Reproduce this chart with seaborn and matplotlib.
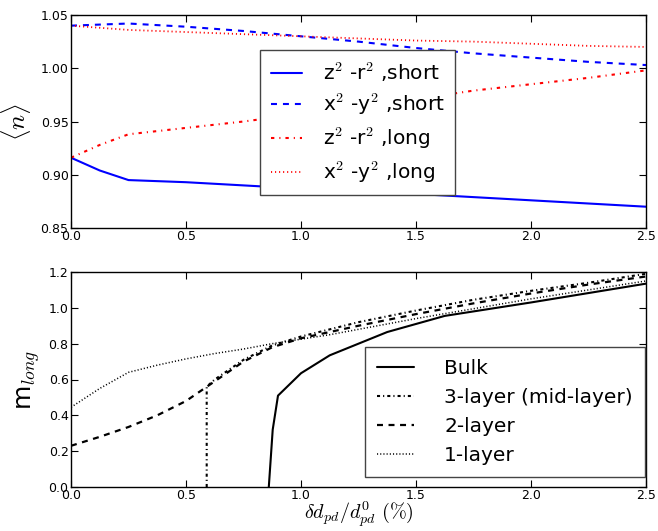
import matplotlib
matplotlib.use("Agg")
import matplotlib.pyplot as plt
import seaborn as sns
import pandas as pd

# ---- top panel data ----
x_top = [0.0, 0.125, 0.25, 0.5, 0.75, 1.0, 1.25, 1.5, 1.75, 2.0, 2.25, 2.5]
zr_short = [0.916, 0.904, 0.895, 0.893, 0.890, 0.887, 0.885, 0.882, 0.879, 0.876, 0.873, 0.870]
xy_short = [1.040, 1.041, 1.042, 1.039, 1.035, 1.030, 1.025, 1.019, 1.014, 1.010, 1.006, 1.003]
zr_long = [0.916, 0.928, 0.938, 0.944, 0.950, 0.957, 0.964, 0.971, 0.979, 0.985, 0.991, 0.998]
xy_long = [1.040, 1.038, 1.036, 1.034, 1.032, 1.030, 1.028, 1.026, 1.025, 1.023, 1.021, 1.020]
top_labels = [r"z$^2$ -r$^2$ ,short", r"x$^2$ -y$^2$ ,short",
              r"z$^2$ -r$^2$ ,long", r"x$^2$ -y$^2$ ,long"]

# ---- bottom panel data ----
x_bulk = [0.86, 0.877, 0.90, 1.0, 1.125, 1.375, 1.625, 2.0, 2.5]
m_bulk = [0.0, 0.32, 0.51, 0.635, 0.735, 0.865, 0.955, 1.03, 1.135]

x_3l = [0.59, 0.59, 0.625, 0.75, 0.875, 1.0, 1.125, 1.25, 1.5, 1.75, 2.0, 2.25, 2.5]
m_3l = [0.0, 0.56, 0.60, 0.71, 0.79, 0.84, 0.88, 0.92, 0.985, 1.045, 1.095, 1.14, 1.19]

x_2l = [0.0, 0.125, 0.25, 0.375, 0.5, 0.625, 0.75, 0.875, 1.0, 1.125, 1.25, 1.5, 1.75, 2.0, 2.25, 2.5]
m_2l = [0.23, 0.28, 0.335, 0.40, 0.48, 0.59, 0.70, 0.78, 0.83, 0.865, 0.90, 0.965, 1.025, 1.08, 1.13, 1.175]

x_1l = [0.0, 0.125, 0.25, 0.375, 0.5, 0.625, 0.75, 0.875, 1.0, 1.125, 1.25, 1.5, 1.75, 2.0, 2.25, 2.5]
m_1l = [0.445, 0.55, 0.64, 0.68, 0.715, 0.745, 0.77, 0.80, 0.825, 0.85, 0.88, 0.94, 0.995, 1.05, 1.10, 1.15]
bottom_labels = ["Bulk", "3-layer (mid-layer)", "2-layer", "1-layer"]

sns.set_style("white")
plt.rcParams.update({
    "font.family": ["DejaVu Sans"],
    "mathtext.fontset": "cm",
    "text.color": "black", "axes.labelcolor": "black",
    "xtick.direction": "in", "ytick.direction": "in",
    "xtick.top": True, "ytick.right": True,
    "xtick.bottom": True, "ytick.left": True,
    "xtick.major.size": 5, "ytick.major.size": 5,
    "xtick.major.pad": 1.5, "ytick.major.pad": 1.8,
    "xtick.labelsize": 9, "ytick.labelsize": 9,
    "axes.edgecolor": "black", "axes.linewidth": 1.0,
    "xtick.color": "black", "ytick.color": "black",
    "legend.frameon": True,
    "lines.scale_dashes": False,
})

fig = plt.figure(figsize=(6.58, 5.31), dpi=100)
ax1 = fig.add_axes([71/658, 1 - 228/531, (646-71)/658, (228-15)/531])
ax2 = fig.add_axes([71/658, 1 - 487/531, (646-71)/658, (487-272)/531])

styles_top = [("blue", "-", 1.5), ("blue", (0, (4.3, 4.3)), 1.5),
              ("red", (0, (2.4, 3.6, 0.8, 3.6)), 1.5), ("red", (0, (0.8, 2.1)), 1.3)]
for yv, lab, (c, ls, lw) in zip([zr_short, xy_short, zr_long, xy_long], top_labels, styles_top):
    df = pd.DataFrame({"x": x_top, "y": yv})
    sns.lineplot(data=df, x="x", y="y", ax=ax1, color=c, linestyle=ls, lw=lw,
                 label=lab, estimator=None, sort=False)

ax1.set_xlim(0, 2.5)
ax1.set_ylim(0.85, 1.05)
ax1.set_xticks([0.0, 0.5, 1.0, 1.5, 2.0, 2.5])
ax1.set_yticks([0.85, 0.90, 0.95, 1.00, 1.05])
ax1.set_xticklabels(["0.0", "0.5", "1.0", "1.5", "2.0", "2.5"])
ax1.set_yticklabels(["0.85", "0.90", "0.95", "1.00", "1.05"])
ax1.set_xlabel("")
ax1.set_ylabel(r"$\langle n\rangle$", fontsize=18)
ax1.yaxis.set_label_coords(-0.066, 0.5)
leg1 = ax1.legend(loc="upper left", bbox_to_anchor=(0.329, 0.836), borderaxespad=0,
                  fontsize=14.5, fancybox=False, edgecolor="#444444", framealpha=1,
                  handlelength=1.55, handletextpad=1.05, labelspacing=0.4, borderpad=0.52)
leg1.get_frame().set_linewidth(1.0)

styles_bot = [("-", 1.5), ((0, (2.2, 2.2, 0.8, 2.2)), 1.5), ((0, (4.3, 4.0)), 1.6), ((0, (0.8, 1.5)), 1.1)]
for xv, yv, lab, (ls, lw) in zip([x_bulk, x_3l, x_2l, x_1l], [m_bulk, m_3l, m_2l, m_1l], bottom_labels, styles_bot):
    df = pd.DataFrame({"x": xv, "y": yv})
    sns.lineplot(data=df, x="x", y="y", ax=ax2, color="black", linestyle=ls, lw=lw,
                 label=lab, estimator=None, sort=False)

ax2.set_xlim(0, 2.5)
ax2.set_ylim(0, 1.2)
ax2.set_xticks([0.0, 0.5, 1.0, 1.5, 2.0, 2.5])
ax2.set_yticks([0.0, 0.2, 0.4, 0.6, 0.8, 1.0, 1.2])
ax2.set_xticklabels(["0.0", "0.5", "1.0", "1.5", "2.0", "2.5"])
ax2.set_yticklabels(["0.0", "0.2", "0.4", "0.6", "0.8", "1.0", "1.2"])
ax2.set_xlabel(r"$\delta d_{pd}/d^0_{pd}\ (\%)$", fontsize=14.5)
ax2.xaxis.set_label_coords(0.5, -0.058)
ax2.set_ylabel(r"m$_{long}$", fontsize=18)
ax2.yaxis.set_label_coords(-0.050, 0.5)
leg2 = ax2.legend(loc="lower right", bbox_to_anchor=(0.998, 0.047), borderaxespad=0,
                  fontsize=14.5, fancybox=False, edgecolor="#444444", framealpha=1,
                  handlelength=1.85, handletextpad=1.5, labelspacing=0.5, borderpad=0.6)
leg2.get_frame().set_linewidth(1.0)

fig.savefig("out.png", dpi=100)
